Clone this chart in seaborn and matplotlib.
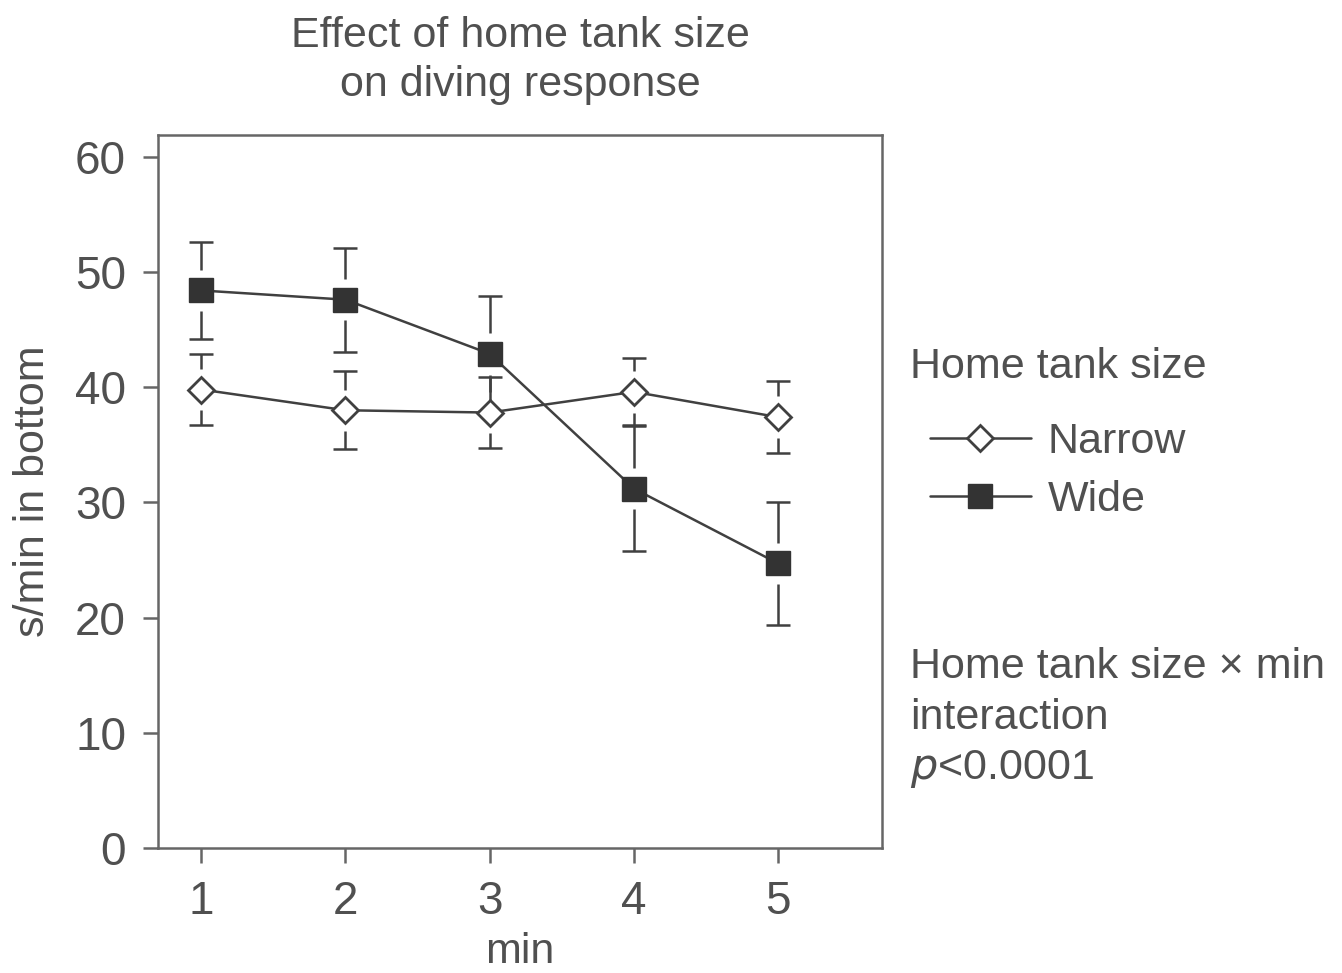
import numpy as np
import pandas as pd
import matplotlib
matplotlib.use("Agg")
import matplotlib.pyplot as plt
import seaborn as sns

# Data (mean +/- error, s/min in bottom)
minutes = [1, 2, 3, 4, 5]
narrow_mean = [39.8, 38.0, 37.8, 39.6, 37.4]
narrow_err = [3.1, 3.4, 3.1, 2.9, 3.1]
wide_mean = [48.4, 47.6, 42.9, 31.2, 24.7]
wide_err = [4.2, 4.5, 5.0, 5.4, 5.3]

sns.set_style("white")
plt.rcParams['font.family'] = ['Liberation Sans', 'DejaVu Sans']

text_col = '#505050'
line_col = '#404040'

fig = plt.figure(figsize=(13.42, 9.73), dpi=100)
ax = fig.add_axes([0.1177, 0.1285, 0.5395, 0.7328])

df = pd.DataFrame({'min': minutes, 'narrow': narrow_mean, 'wide': wide_mean})

# error bars with a small gap around the markers, drawn first
gap = 1.8
for mean, err in [(narrow_mean, narrow_err), (wide_mean, wide_err)]:
    m = np.array(mean)
    e = np.array(err)
    ax.vlines(minutes, m + gap, m + e, color=line_col, lw=1.8, zorder=1)
    ax.vlines(minutes, m - e, m - gap, color=line_col, lw=1.8, zorder=1)
    ax.plot(minutes, m + e, ls='none', marker='_', ms=17, mew=1.8, color=line_col, zorder=1)
    ax.plot(minutes, m - e, ls='none', marker='_', ms=17, mew=1.8, color=line_col, zorder=1)

sns.lineplot(data=df, x='min', y='narrow', ax=ax, color=line_col, lw=1.8,
             marker='D', markersize=13, markerfacecolor='white',
             markeredgecolor=line_col, markeredgewidth=2, label='Narrow', zorder=3)
sns.lineplot(data=df, x='min', y='wide', ax=ax, color=line_col, lw=1.8,
             marker='s', markersize=17, markerfacecolor='#333333',
             markeredgecolor='#333333', markeredgewidth=1, label='Wide', zorder=3)

ax.set_xlim(0.70, 5.72)
ax.set_ylim(0, 61.9)
ax.set_xticks(minutes)
ax.set_yticks([0, 10, 20, 30, 40, 50, 60])

for s in ax.spines.values():
    s.set_color('#666666')
    s.set_linewidth(1.8)
ax.tick_params(axis='both', which='both', direction='out', length=11, width=1.8,
               color='#666666', labelsize=33, labelcolor=text_col, pad=12,
               bottom=True, left=True, top=False, right=False)

ax.set_xlabel('min', fontsize=31, color=text_col, labelpad=6)
ax.set_ylabel('s/min in bottom', fontsize=31, color=text_col, labelpad=16)
ax.set_title('Effect of home tank size\non diving response', fontsize=31,
             color=text_col, pad=28, linespacing=1.3)

# legend title as separate text so the entries sit indented below it
fig.text(0.678, 1 - 367 / 973, 'Home tank size', fontsize=31, color=text_col,
         va='center', ha='left')
handles, labels = ax.get_legend_handles_labels()
leg = ax.legend(handles, labels, loc='upper left',
                bbox_to_anchor=(1.036, 0.628), frameon=False, fontsize=31,
                handlelength=2.35, handletextpad=0.4,
                labelspacing=0.42, borderpad=0)
for t in leg.get_texts():
    t.set_color(text_col)

fig.text(0.678, 1 - 647 / 973, 'Home tank size \u00d7 min\ninteraction\n$p$<0.0001',
         fontsize=31, color=text_col, va='top', ha='left', linespacing=1.34)

fig.savefig('out.png', dpi=100)
